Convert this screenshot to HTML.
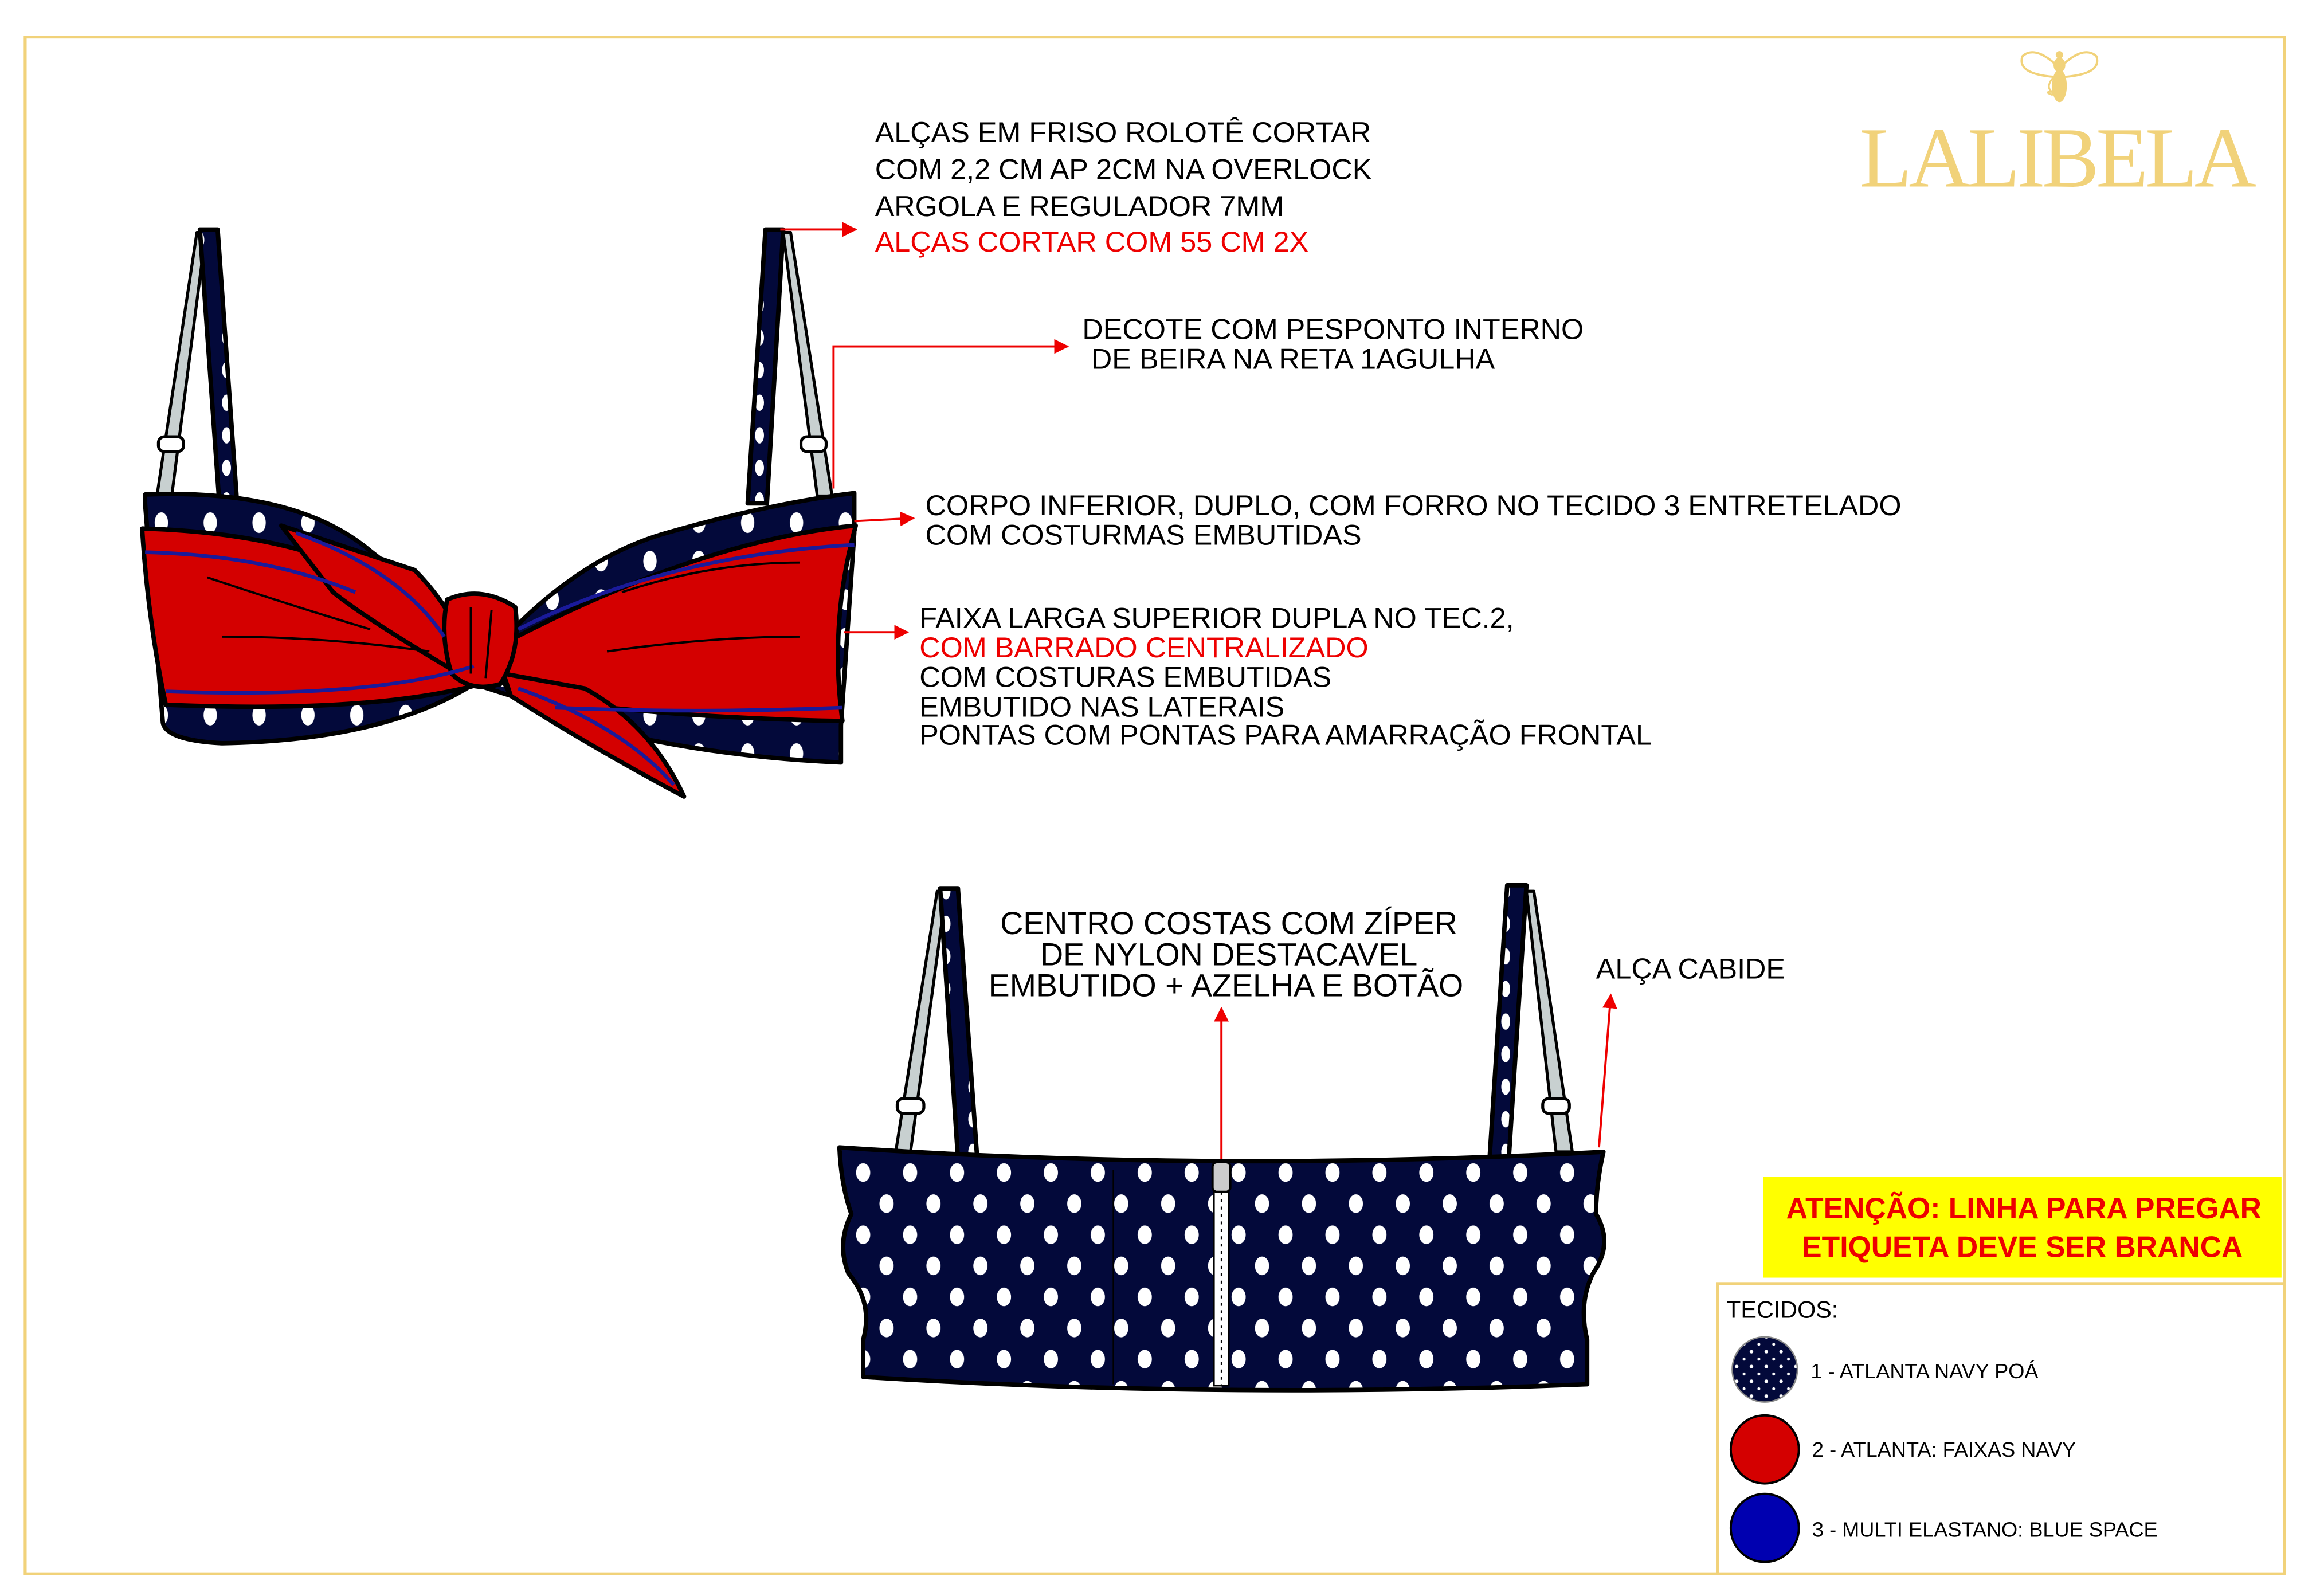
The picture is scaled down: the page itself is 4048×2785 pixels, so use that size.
<!DOCTYPE html>
<html><head><meta charset="utf-8"><style>
html,body{margin:0;padding:0;background:#fff;}
svg{display:block;}
text{font-family:"Liberation Sans",Arial,sans-serif;}
</style></head><body>
<svg width="4048" height="2785" viewBox="0 0 1567 1078" preserveAspectRatio="none" xmlns="http://www.w3.org/2000/svg">
<defs>
<pattern id="dots" width="31.7" height="42" patternUnits="userSpaceOnUse" x="575" y="782">
<rect width="31.7" height="42" fill="#03093a"/>
<ellipse cx="8" cy="10" rx="4.8" ry="6.3" fill="#fff"/>
<ellipse cx="23.8" cy="31" rx="4.8" ry="6.3" fill="#fff"/>
</pattern>
<pattern id="bdots" width="33" height="26" patternUnits="userSpaceOnUse" x="0" y="340">
<rect width="33" height="26" fill="#03093a"/>
<ellipse cx="10" cy="13" rx="4.5" ry="7" fill="#fff"/>
</pattern>
<pattern id="sdots" width="10" height="10" patternUnits="userSpaceOnUse">
<rect width="10" height="10" fill="#03093a"/>
<circle cx="3" cy="3" r="1.2" fill="#fff"/><circle cx="8" cy="8" r="1" fill="#fff"/>
</pattern>
<pattern id="sdots2" width="18" height="22" patternUnits="userSpaceOnUse">
<rect width="18" height="22" fill="#03093a"/>
<ellipse cx="9" cy="8" rx="3" ry="5.5" fill="#fff"/>
</pattern>
<marker id="ah" markerWidth="10" markerHeight="10" refX="9" refY="5" orient="auto" markerUnits="userSpaceOnUse">
<path d="M0,0 L10,5 L0,10 Z" fill="#e00"/>
</marker>
</defs>

<rect x="17" y="25" width="1526" height="1038" fill="none" stroke="#f1d27a" stroke-width="2"/>

<!-- logo -->
<g fill="#f1d27a">
<path d="M1391,46 Q1375,30 1366,38 Q1362,50 1388,52 Z" fill="none" stroke="#f1d27a" stroke-width="1.5"/>
<path d="M1391,46 Q1407,30 1416,38 Q1420,50 1394,52 Z" fill="none" stroke="#f1d27a" stroke-width="1.5"/>
<path d="M1391,48 Q1380,58 1386,62 Q1380,62 1386,64 Z" fill="none" stroke="#f1d27a" stroke-width="1.2"/>
<ellipse cx="1391" cy="58" rx="5" ry="11"/>
<ellipse cx="1391" cy="44" rx="4" ry="5"/>
<circle cx="1391" cy="37" r="2.5"/>
</g>
<text x="1390" y="126" text-anchor="middle" font-size="58" fill="#f1d27a" textLength="268" style="font-family:'Liberation Serif',serif">LALIBELA</text>

<!-- FRONT BRA -->
<g stroke="#000" stroke-width="3" stroke-linejoin="round">
<path d="M133,157 L139,157 L116,335 L106,335 Z" fill="#c8d0d0" stroke-width="2"/>
<path d="M135,155 L147,155 L160,338 L148,338 Z" fill="url(#sdots2)"/>
<path d="M517,155 L529,155 L518,340 L505,340 Z" fill="url(#sdots2)"/>
<path d="M529,157 L534,157 L562,335 L552,335 Z" fill="#c8d0d0" stroke-width="2"/>
<rect x="107" y="295" width="17" height="10" rx="4" fill="#fff" stroke-width="2"/>
<rect x="541" y="295" width="17" height="10" rx="4" fill="#fff" stroke-width="2"/>
<!-- navy base -->
<path d="M98,334 Q200,330 250,372 Q300,410 320,455 Q380,380 450,360 Q520,340 577,333 L577,360 L568,490 L568,515 Q500,512 440,500 L320,462 Q260,500 150,502 Q112,500 110,488 L98,340 Z" fill="url(#bdots)"/>
<!-- left red -->
<path d="M96,357 Q200,360 260,395 L325,462 Q250,482 112,476 Q100,420 96,357 Z" fill="#d40000"/>
<!-- right red -->
<path d="M578,355 Q470,365 330,440 L345,470 Q450,485 569,487 Q560,420 578,355 Z" fill="#d40000"/>
<!-- left bow loop -->
<path d="M190,355 L280,385 Q305,410 318,445 L315,458 Q250,420 225,400 Z" fill="#d40000"/>
<!-- right tail -->
<path d="M340,455 L395,465 Q440,490 462,538 Q400,505 345,470 Z" fill="#d40000"/>
<!-- knot -->
<path d="M302,405 Q325,395 348,410 Q352,440 338,462 Q318,468 305,455 Q297,430 302,405 Z" fill="#d40000"/>
</g>
<g stroke="#1a1a9a" stroke-width="2.5" fill="none">
<path d="M98,373 Q180,375 240,400"/>
<path d="M577,368 Q450,375 350,425"/>
<path d="M112,467 Q250,472 320,450"/>
<path d="M375,478 Q470,482 569,478"/>
<path d="M200,360 Q270,385 300,430"/>
<path d="M350,465 Q420,490 455,530"/>
</g>
<g stroke="#000" stroke-width="1.5" fill="none">
<path d="M140,390 Q200,410 250,425"/><path d="M150,430 Q220,430 290,440"/>
<path d="M420,400 Q480,380 540,380"/><path d="M410,440 Q480,430 540,430"/>
<path d="M318,410 L318,455"/><path d="M332,412 L328,458"/>
</g>

<!-- front texts -->
<g font-size="19.5" fill="#000">
<text x="591" y="96">ALÇAS EM FRISO ROLOTÊ  CORTAR</text>
<text x="591" y="121">COM 2,2 CM AP 2CM NA OVERLOCK</text>
<text x="591" y="146">ARGOLA E REGULADOR 7MM</text>
<text x="591" y="170" fill="#e00">ALÇAS CORTAR COM 55 CM 2X</text>
<text x="731" y="229">DECOTE COM PESPONTO INTERNO</text>
<text x="737" y="249"> DE BEIRA NA RETA 1AGULHA</text>
<text x="625" y="348">CORPO INFERIOR, DUPLO, COM FORRO NO TECIDO 3 ENTRETELADO</text>
<text x="625" y="368">COM COSTURMAS EMBUTIDAS</text>
<text x="621" y="424">FAIXA LARGA SUPERIOR DUPLA NO TEC.2,</text>
<text x="621" y="444" fill="#e00">COM BARRADO CENTRALIZADO</text>
<text x="621" y="464">COM COSTURAS EMBUTIDAS</text>
<text x="621" y="484">EMBUTIDO NAS LATERAIS</text>
<text x="621" y="503">PONTAS COM PONTAS PARA AMARRAÇÃO FRONTAL</text>
</g>
<g stroke="#e00" stroke-width="1.5" fill="none" marker-end="url(#ah)">
<path d="M527,155 L578,155"/>
<path d="M563,330 L563,234 L721,234"/>
<path d="M577,352 L617,350"/>
<path d="M570,427 L613,427"/>
<path d="M825,790 L825,681"/>
<path d="M1080,775 L1088,672"/>
</g>

<!-- BACK BRA -->
<g stroke="#000" stroke-width="3" stroke-linejoin="round">
<path d="M633,602 L639,602 L615,778 L605,778 Z" fill="#c8d0d0" stroke-width="2"/>
<path d="M635,600 L647,600 L660,782 L647,782 Z" fill="url(#sdots2)"/>
<path d="M1018,598 L1031,598 L1019,784 L1006,784 Z" fill="url(#sdots2)"/>
<path d="M1031,602 L1036,602 L1062,778 L1051,778 Z" fill="#c8d0d0" stroke-width="2"/>
<rect x="606" y="742" width="18" height="10" rx="4" fill="#fff" stroke-width="2"/>
<rect x="1042" y="742" width="18" height="10" rx="4" fill="#fff" stroke-width="2"/>
<path d="M567,775 Q820,792 1083,778 Q1078,800 1078,820 Q1090,840 1076,860 Q1066,880 1072,905 L1072,935 Q820,945 583,930 L583,905 Q590,880 573,860 Q565,840 575,820 Q568,800 567,775 Z" fill="url(#dots)"/>
</g>
<line x1="752" y1="790" x2="752" y2="935" stroke="#000" stroke-width="1"/>
<rect x="820" y="788" width="10" height="148" fill="#fff" stroke="#000" stroke-width="1"/>
<line x1="825" y1="790" x2="825" y2="936" stroke="#000" stroke-width="1" stroke-dasharray="2,3"/>
<rect x="819" y="785" width="12" height="20" rx="3" fill="#ccc" stroke="#000" stroke-width="1.5"/>

<g font-size="21.5" fill="#000" text-anchor="middle">
<text x="830" y="631">CENTRO COSTAS  COM ZÍPER</text>
<text x="830" y="652">DE NYLON DESTACAVEL</text>
<text x="828" y="673">EMBUTIDO + AZELHA E BOTÃO</text>
</g>
<text x="1078" y="661" font-size="19.5" fill="#000">ALÇA CABIDE</text>

<!-- attention box -->
<rect x="1191" y="795" width="350" height="68" fill="#ffff00"/>
<g font-size="20" font-weight="bold" fill="#e00" text-anchor="middle">
<text x="1367" y="823">ATENÇÃO: LINHA PARA PREGAR</text>
<text x="1366" y="849">ETIQUETA DEVE SER BRANCA</text>
</g>

<!-- legend -->
<rect x="1160" y="867" width="383" height="196" fill="#fff" stroke="#f1d27a" stroke-width="2"/>
<text x="1166" y="890" font-size="16" fill="#000">TECIDOS:</text>
<circle cx="1192" cy="925" r="22" fill="url(#sdots)" stroke="#888" stroke-width="1"/>
<circle cx="1192" cy="979" r="23" fill="#d40000" stroke="#000" stroke-width="1.5"/>
<circle cx="1192" cy="1032" r="23" fill="#0000b0" stroke="#000" stroke-width="1.5"/>
<g font-size="14" fill="#000">
<text x="1223" y="931">1 - ATLANTA NAVY POÁ</text>
<text x="1224" y="984">2 - ATLANTA: FAIXAS NAVY</text>
<text x="1224" y="1038">3 - MULTI ELASTANO: BLUE SPACE</text>
</g>
</svg>
</body></html>
